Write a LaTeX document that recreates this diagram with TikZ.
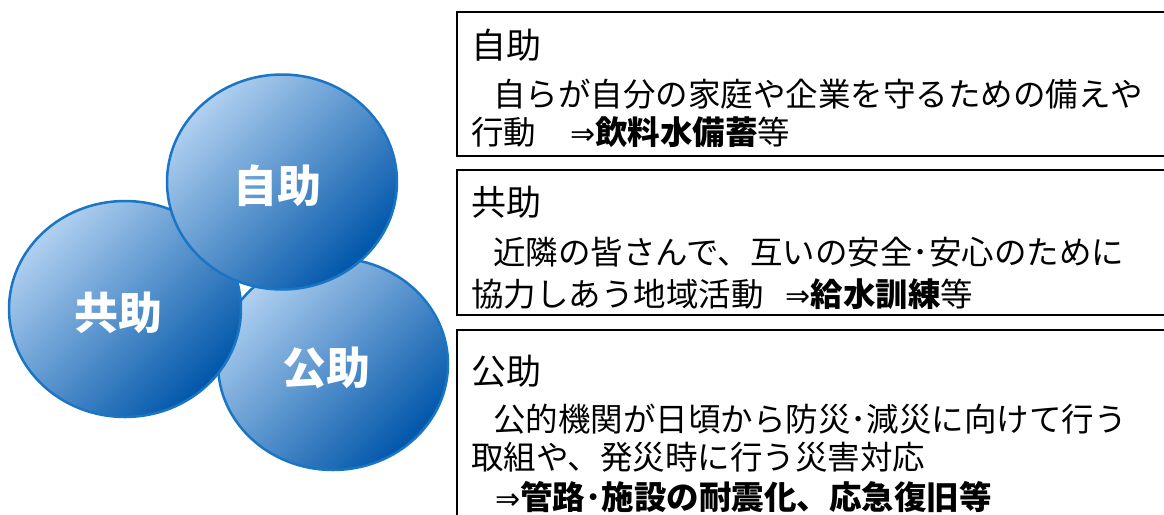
\documentclass[tikz,border=0pt]{standalone}
\usepackage{fontspec}
\setmainfont{Noto Sans CJK JP}
\newfontfamily\arrfont{DejaVu Sans}
\usetikzlibrary{shapes.geometric}
\newcommand{\arr}{{\arrfont\fontsize{30}{30}\selectfont ⇒}}
\begin{document}
\begin{tikzpicture}[x=1pt,y=-1pt,
  ball/.style={ellipse, draw=balledge, line width=2.5pt, top color=balllight, middle color=ballmid, bottom color=balldark, shading angle=45, inner sep=0pt},
  balltext/.style={text=white, font=\fontsize{44}{44}\selectfont\bfseries},
  infobox/.style={draw=black, line width=2pt},
  title/.style={anchor=base west, inner sep=0pt, font=\fontsize{35}{35}\selectfont},
  body/.style={anchor=base west, inner sep=0pt, font=\fontsize{32.5}{32.5}\selectfont}]
\definecolor{balledge}{HTML}{1A76C4}
\definecolor{balllight}{HTML}{B0D0F0}
\definecolor{ballmid}{HTML}{2A82D2}
\definecolor{balldark}{HTML}{0056AA}
\useasboundingbox (0,0) rectangle (1164,514);
% circles
\node[ball, minimum width=230pt, minimum height=212pt] (kojo) at (333,364) {};
\node[ball, minimum width=232pt, minimum height=216pt] (kyojo) at (125,309) {};
\node[ball, minimum width=230pt, minimum height=215pt] (jijo) at (282,182) {};
\node[balltext] (jijot) at (277,186) {自助};
\node[balltext] (kyojot) at (118,313) {共助};
\node[balltext] (kojot) at (326,368) {公助};
% boxes
\draw[infobox] (1180,12) -| (457,156) -- (1180,156);
\draw[infobox] (1180,170) -| (457,315) -- (1180,315);
\draw[infobox] (1180,330) -| (457,530);
% box 1
\node[title] (t1) at (471,58) {自助};
\node[body] (b1a) at (493,106) {自らが自分の家庭や企業を守るための備えや};
\node[body] (b1b) at (471,144) {行動\hspace{34pt}\arr\textbf{飲料水備蓄}等};
% box 2
\node[title] (t2) at (471,215) {共助};
\node[body] (b2a) at (493,264) {近隣の皆さんで、互いの安全･安心のために};
\node[body] (b2b) at (471,306) {協力しあう地域活動\hspace{22pt}\arr\textbf{給水訓練}等};
% box 3
\node[title] (t3) at (471,384) {公助};
\node[body] (b3a) at (493,431) {公的機関が日頃から防災･減災に向けて行う};
\node[body] (b3b) at (471,469) {取組や、発災時に行う災害対応};
\node[body] (b3c) at (495,509) {\arr\textbf{管路･施設の耐震化、応急復旧等}};
\end{tikzpicture}
\end{document}
